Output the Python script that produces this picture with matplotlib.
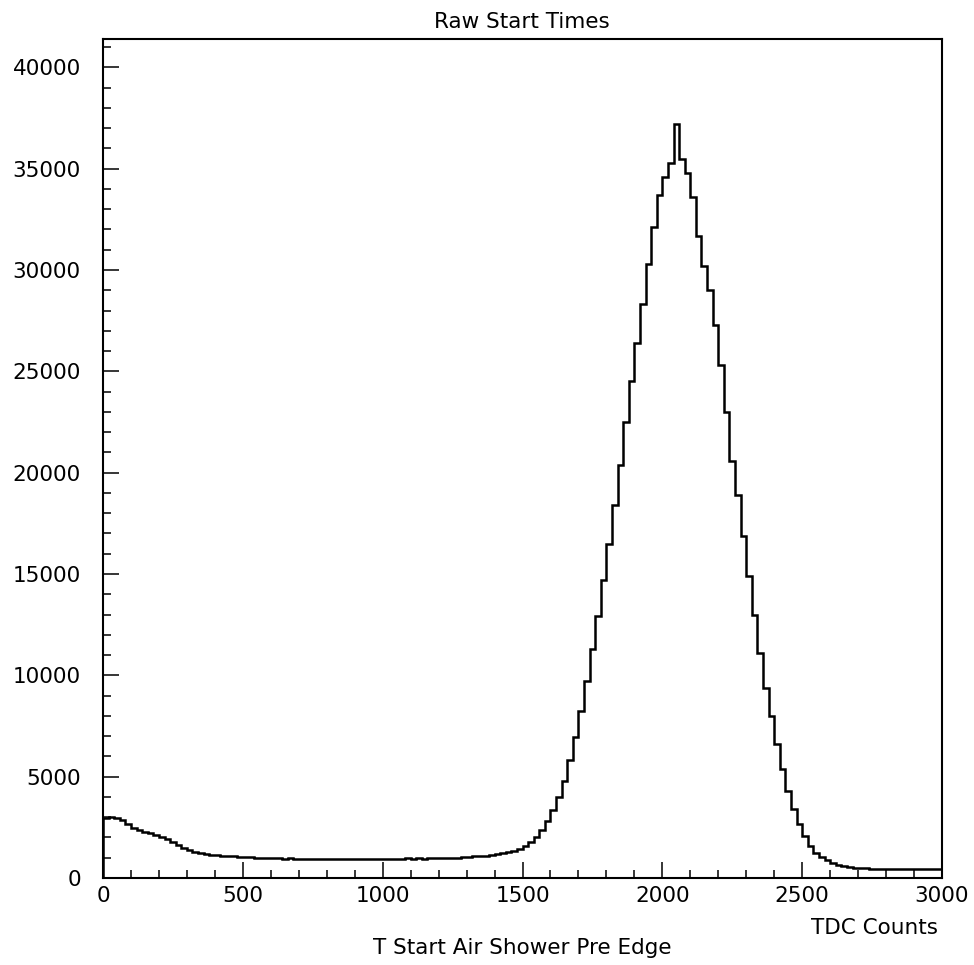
import matplotlib
matplotlib.use('Agg')
import matplotlib.pyplot as plt
import numpy as np
from matplotlib.ticker import MultipleLocator

# histogram of raw start times, 20 TDC counts per bin (0 - 3000)
bin_width = 20
counts = [
    # 0 - 580
    2950, 3000, 2980, 2850, 2640, 2480, 2360, 2290, 2210, 2120,
    2010, 1900, 1760, 1630, 1500, 1390, 1300, 1230, 1190, 1150,
    1120, 1100, 1090, 1080, 1050, 1030, 1020, 1000, 1000, 980,
    # 600 - 1280
    990, 970, 960, 975, 950, 960, 955, 945, 960, 950,
    940, 955, 945, 950, 935, 950, 945, 960, 940, 950,
    955, 945, 960, 950, 965, 955, 970, 960, 980, 975,
    990, 985, 1000, 1010, 1030,
    # 1300 - 1580
    1050, 1070, 1090, 1110, 1140, 1170, 1220, 1280, 1350, 1450,
    1600, 1790, 2030, 2360, 2800,
    # 1600 - 1980
    3350, 4000, 4800, 5800, 6950, 8250, 9700, 11300, 12950, 14700,
    16500, 18400, 20400, 22500, 24500, 26400, 28300, 30300, 32100, 33700,
    # 2000 - 2380
    34600, 35300, 37200, 35500, 34800, 33600, 31700, 30200, 29000, 27300,
    25300, 23000, 20600, 18900, 16900, 14900, 13000, 11100, 9400, 8000,
    # 2400 - 2680
    6600, 5400, 4300, 3400, 2650, 2050, 1600, 1250, 1030, 880,
    760, 660, 600, 550, 510,
    # 2700 - 2980
    480, 470, 465, 460, 455, 450, 455, 445, 450, 440,
    445, 435, 445, 430, 450,
]

title = 'Raw Start Times'
xlabel = 'T Start Air Shower Pre Edge'
xunit = 'TDC Counts'

edges = np.arange(len(counts) + 1) * bin_width

plt.rcParams['font.family'] = ['DejaVu Sans']
fs = 15.5

fig = plt.figure(figsize=(9.74, 9.65), dpi=100)
ax = fig.add_axes([103 / 974, 1 - 878 / 965, (942 - 103) / 974, (878 - 39) / 965])

ax.stairs(counts, edges, color='black', linewidth=1.8, baseline=0)

ax.set_xlim(0, 3000)
ax.set_ylim(0, 41400)

ax.xaxis.set_major_locator(MultipleLocator(500))
ax.xaxis.set_minor_locator(MultipleLocator(100))
ax.yaxis.set_major_locator(MultipleLocator(5000))
ax.yaxis.set_minor_locator(MultipleLocator(1000))

ax.tick_params(which='both', direction='in', top=False, right=False,
               width=1.1, labelsize=fs, colors='black')
ax.tick_params(axis='y', which='major', length=11.5, pad=16)
ax.tick_params(axis='y', which='minor', length=5.8)
ax.tick_params(axis='x', which='major', length=11.5, pad=6)
ax.tick_params(axis='x', which='minor', length=5.8)

for sp in ax.spines.values():
    sp.set_linewidth(1.5)
    sp.set_color('black')

# ROOT style labels
fig.text(522 / 974, 1 - 22 / 965, title, ha='center', va='center', fontsize=fs)
fig.text(522 / 974, 1 - 948 / 965, xlabel, ha='center', va='center', fontsize=fs)
fig.text(938 / 974, 1 - 928 / 965, xunit, ha='right', va='center', fontsize=fs)

fig.savefig('out.png', dpi=100)
